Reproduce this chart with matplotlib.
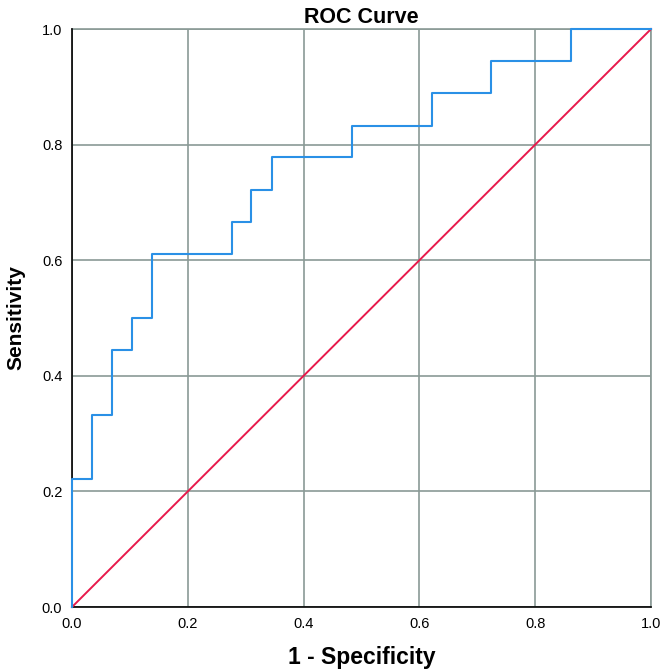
import matplotlib.pyplot as plt
import numpy as np

plt.rcParams['font.family'] = ['Liberation Sans', 'DejaVu Sans']

# ROC corner points (1 - specificity, sensitivity)
fpr = [0.0, 0.0345, 0.069, 0.103, 0.138, 0.276, 0.310, 0.345, 0.483, 0.621, 0.724, 0.862, 1.0]
tpr = [0.0, 0.222, 0.333, 0.444, 0.500, 0.611, 0.667, 0.722, 0.778, 0.833, 0.889, 0.944, 1.0]
ref_line = [0.0, 1.0]
ticks = [0.0, 0.2, 0.4, 0.6, 0.8, 1.0]

fig = plt.figure(figsize=(6.63, 6.72), dpi=100)
ax = fig.add_axes([0.1086, 0.0967, 0.8733, 0.8601])

ax.grid(color='#8a9a96', linestyle='-', linewidth=1.2, zorder=0)
ax.plot(ref_line, ref_line, color='#e8194b', linewidth=1.4, zorder=3, clip_on=False)
ax.plot(fpr, tpr, drawstyle='steps-pre', color='#2a90e6', linewidth=1.5, zorder=4, clip_on=False)

ax.set_xlim(0, 1)
ax.set_ylim(0, 1)
ax.set_xticks(ticks)
ax.set_yticks(ticks)
ax.set_xticklabels(['%.1f' % t for t in ticks])
ax.set_yticklabels(['%.1f' % t for t in ticks])
ax.tick_params(length=0, labelsize=10.5, pad=7)

for s in ['top', 'right']:
    ax.spines[s].set_color('#8a9a96')
    ax.spines[s].set_linewidth(1.2)
    ax.spines[s].set_zorder(2)
for s in ['left', 'bottom']:
    ax.spines[s].set_color('black')
    ax.spines[s].set_linewidth(1.2)

ax.set_title('ROC Curve', fontsize=15.5, fontweight='bold', pad=4)
ax.set_xlabel('1 - Specificity', fontsize=16.5, fontweight='bold', labelpad=11)
ax.set_ylabel('Sensitivity', fontsize=15, fontweight='bold', labelpad=12)

fig.savefig('out.png', dpi=100)
